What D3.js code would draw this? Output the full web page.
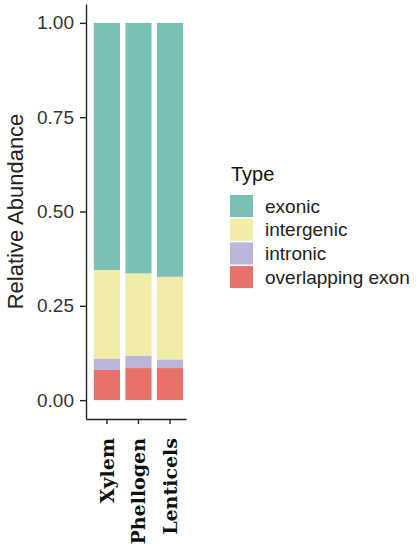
<!DOCTYPE html>
<meta charset="utf-8">
<script src="https://d3js.org/d3.v7.min.js"></script>
<html>
<head>
  <style>
    body { margin: 0; background: #fff; }
    text { font-family: "Liberation Sans", Arial, Helvetica, sans-serif; }
  </style>
</head>
<body>
  <div id="my_dataviz"></div>
</body>
</html>

<script>
  // tissues on the x axis
  var tissues = ["Xylem", "Phellogen", "Lenticels"];

  // stacking order, bottom to top
  var types = ["overlapping exon", "intronic", "intergenic", "exonic"];

  // fraction of each type per tissue
  var overlappingExon = [0.080, 0.085, 0.085];
  var intronic        = [0.030, 0.032, 0.023];
  var intergenic      = [0.235, 0.219, 0.219];
  var exonic          = [0.655, 0.664, 0.673];

  var yTicks = [0, 0.25, 0.5, 0.75, 1];

  // legend order, as in the picture
  var legendTypes = ["exonic", "intergenic", "intronic", "overlapping exon"];
  var typeColors = ["#79c1b7", "#f1eca7", "#bab5d9", "#e6716a"];

  var data = tissues.map(function(t, i) {
    return {
      tissue: t,
      "overlapping exon": overlappingExon[i],
      "intronic": intronic[i],
      "intergenic": intergenic[i],
      "exonic": exonic[i]
    };
  });

  var width = 420, height = 550;

  var svg = d3.select("#my_dataviz")
    .append("svg")
      .attr("width", width)
      .attr("height", height);

  // scales
  var x = d3.scaleBand()
    .domain(tissues)
    .range([86, 186])
    .paddingInner(0.17)
    .paddingOuter(0.17)
    .align(0.73);

  var y = d3.scaleLinear()
    .domain([-0.05, 1.05])
    .range([419, 4]);

  var color = d3.scaleOrdinal()
    .domain(legendTypes)
    .range(typeColors);

  var stacked = d3.stack().keys(types)(data);

  // bars
  svg.append("g")
    .selectAll("g")
    .data(stacked)
    .enter()
    .append("g")
      .attr("fill", function(d) { return color(d.key); })
    .selectAll("rect")
    .data(function(d) { return d; })
    .enter()
    .append("rect")
      .attr("x", function(d) { return x(d.data.tissue); })
      .attr("y", function(d) { return y(d[1]); })
      .attr("width", x.bandwidth())
      .attr("height", function(d) { return y(d[0]) - y(d[1]); });

  // y axis
  var yAxis = svg.append("g")
    .attr("transform", "translate(86,0)")
    .call(d3.axisLeft(y).tickValues(yTicks).tickFormat(d3.format(".2f"))
      .tickSize(6).tickPadding(6).tickSizeOuter(0));
  yAxis.selectAll("text")
    .style("font-size", "19px")
    .style("font-family", "'Liberation Sans', Arial, sans-serif")
    .attr("fill", "#333");

  // x axis
  var xAxis = svg.append("g")
    .attr("transform", "translate(0,419)")
    .call(d3.axisBottom(x).tickSize(5).tickSizeOuter(0));
  xAxis.selectAll("text")
    .attr("transform", "rotate(-90)")
    .attr("x", -19)
    .attr("y", 0)
    .attr("dy", "0.36em")
    .style("text-anchor", "end")
    .style("font-size", "19px")
    .style("font-weight", "bold")
    .style("font-family", "'DejaVu Serif', 'Liberation Serif', serif")
    .attr("fill", "#111");

  svg.selectAll(".domain, .tick line")
    .attr("stroke", "#222")
    .attr("stroke-width", 1.4);

  // y axis title
  svg.append("text")
    .attr("transform", "translate(23," + y(0.5) + ") rotate(-90)")
    .attr("text-anchor", "middle")
    .style("font-size", "22px")
    .attr("fill", "#222")
    .text("Relative Abundance");

  // legend
  var legend = svg.append("g").attr("transform", "translate(230,0)");
  legend.append("text")
    .attr("x", 1)
    .attr("y", 181)
    .style("font-size", "20px")
    .attr("fill", "#111")
    .text("Type");

  var rows = legend.selectAll(".row")
    .data(legendTypes)
    .enter()
    .append("g")
      .attr("class", "row")
      .attr("transform", function(d, i) { return "translate(0," + (195 + i * 23.7) + ")"; });
  rows.append("rect")
    .attr("width", 23)
    .attr("height", 22)
    .attr("fill", function(d) { return color(d); });
  rows.append("text")
    .attr("x", 35)
    .attr("y", 11)
    .attr("dy", "0.35em")
    .style("font-size", "19px")
    .attr("fill", "#222")
    .text(function(d) { return d; });
</script>
